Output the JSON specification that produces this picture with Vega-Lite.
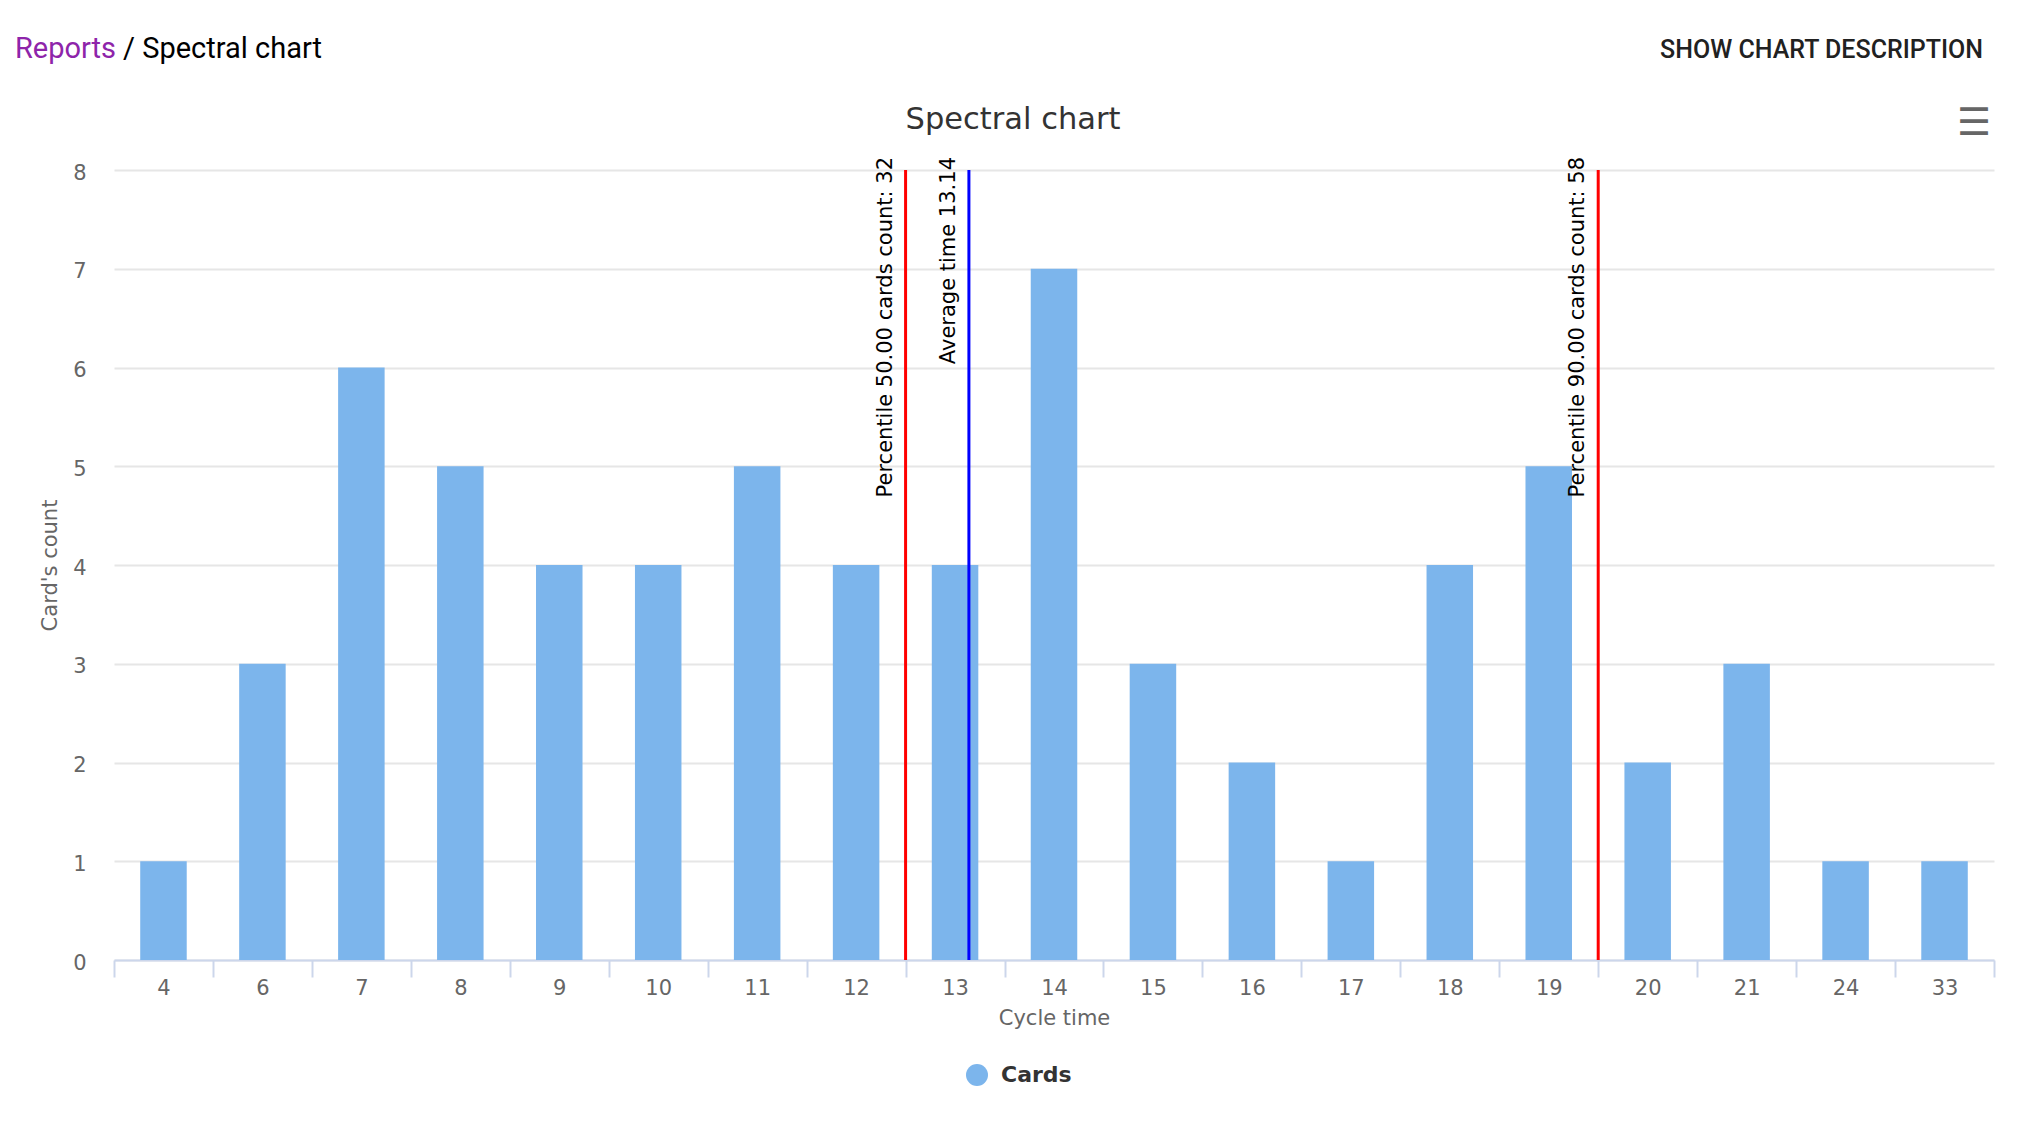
{
  "$schema": "https://vega.github.io/schema/vega-lite/v6.json",
  "width": 1880,
  "height": 790,
  "autosize": {"type": "none"},
  "padding": {"left": 114, "top": 170, "right": 34, "bottom": 170},
  "background": "white",
  "title": {"text": "Spectral chart", "font": "DejaVu Sans", "fontSize": 30.5, "fontWeight": "normal", "color": "#333333", "anchor": "middle", "frame": "bounds", "offset": 33, "dy": 133, "dx": 8},
  "config": {"view": {"stroke": null}, "font": "DejaVu Sans"},
  "layer": [
    {
      "data": {"values": [
        {"cycle": 4, "count": 1, "series": "Cards"},
        {"cycle": 6, "count": 3, "series": "Cards"},
        {"cycle": 7, "count": 6, "series": "Cards"},
        {"cycle": 8, "count": 5, "series": "Cards"},
        {"cycle": 9, "count": 4, "series": "Cards"},
        {"cycle": 10, "count": 4, "series": "Cards"},
        {"cycle": 11, "count": 5, "series": "Cards"},
        {"cycle": 12, "count": 4, "series": "Cards"},
        {"cycle": 13, "count": 4, "series": "Cards"},
        {"cycle": 14, "count": 7, "series": "Cards"},
        {"cycle": 15, "count": 3, "series": "Cards"},
        {"cycle": 16, "count": 2, "series": "Cards"},
        {"cycle": 17, "count": 1, "series": "Cards"},
        {"cycle": 18, "count": 4, "series": "Cards"},
        {"cycle": 19, "count": 5, "series": "Cards"},
        {"cycle": 20, "count": 2, "series": "Cards"},
        {"cycle": 21, "count": 3, "series": "Cards"},
        {"cycle": 24, "count": 1, "series": "Cards"},
        {"cycle": 33, "count": 1, "series": "Cards"}
      ]},
      "mark": {"type": "bar", "width": {"band": 0.47}},
      "encoding": {
        "x": {
          "field": "cycle", "type": "ordinal",
          "scale": {"paddingInner": 0, "paddingOuter": 0},
          "axis": {
            "title": "Cycle time", "labelAngle": 0, "tickBand": "extent",
            "domainColor": "#ccd6eb", "domainWidth": 2, "tickColor": "#ccd6eb", "tickWidth": 2, "tickSize": 17,
            "labelFont": "DejaVu Sans", "labelFontSize": 21, "labelColor": "#666666", "labelPadding": 0,
            "titleFont": "DejaVu Sans", "titleFontSize": 21, "titleFontWeight": "normal", "titleColor": "#666666", "titlePadding": 9
          }
        },
        "y": {
          "field": "count", "type": "quantitative",
          "scale": {"domain": [0, 8], "nice": false},
          "axis": {
            "title": "Card's count", "values": [0, 1, 2, 3, 4, 5, 6, 7, 8], "format": "d",
            "grid": true, "gridColor": "#e6e6e6", "gridWidth": 2, "domain": false, "ticks": false,
            "labelFont": "DejaVu Sans", "labelFontSize": 21, "labelColor": "#666666", "labelPadding": 28, "labelOffset": 3,
            "titleFont": "DejaVu Sans", "titleFontSize": 21, "titleFontWeight": "normal", "titleColor": "#666666", "titlePadding": 12
          }
        },
        "color": {
          "field": "series", "type": "nominal",
          "scale": {"range": ["#7cb5ec"]},
          "legend": {
            "orient": "none", "legendX": 852, "legendY": 894, "title": null,
            "symbolType": "circle", "symbolSize": 484, "symbolStrokeWidth": 0, "symbolOpacity": 1,
            "labelFont": "DejaVu Sans", "labelFontSize": 22, "labelFontWeight": "bold", "labelColor": "#333333", "labelOffset": 13
          }
        }
      }
    },
    {
      "data": {"values": [
        {"cycle": 13, "label": "Percentile 50.00 cards count: 32"},
        {"cycle": 20, "label": "Percentile 90.00 cards count: 58"}
      ]},
      "layer": [
        {
          "mark": {"type": "rule", "color": "#ff0000", "strokeWidth": 3},
          "encoding": {"x": {"field": "cycle", "type": "ordinal", "bandPosition": 0}}
        },
        {
          "mark": {"type": "text", "angle": 270, "align": "right", "baseline": "alphabetic", "dx": 13, "dy": -14, "font": "DejaVu Sans", "fontSize": 21, "color": "#000000"},
          "encoding": {
            "x": {"field": "cycle", "type": "ordinal", "bandPosition": 0},
            "y": {"datum": 8},
            "text": {"field": "label"}
          }
        }
      ]
    },
    {
      "data": {"values": [
        {"cycle": 13, "label": "Average time 13.14"}
      ]},
      "layer": [
        {
          "mark": {"type": "rule", "color": "#0000ff", "strokeWidth": 3},
          "encoding": {"x": {"field": "cycle", "type": "ordinal", "bandPosition": 0.64}}
        },
        {
          "mark": {"type": "text", "angle": 270, "align": "right", "baseline": "alphabetic", "dx": 13, "dy": -14, "font": "DejaVu Sans", "fontSize": 21, "color": "#000000"},
          "encoding": {
            "x": {"field": "cycle", "type": "ordinal", "bandPosition": 0.64},
            "y": {"datum": 8},
            "text": {"field": "label"}
          }
        }
      ]
    },
    {
      "data": {"values": [{"label": "Reports"}]},
      "mark": {"type": "text", "align": "left", "baseline": "middle", "dx": -99, "font": "Roboto", "fontSize": 29, "color": "#8e24aa"},
      "encoding": {
        "x": {"datum": 4, "type": "ordinal", "bandPosition": 0},
        "y": {"datum": 9.225},
        "text": {"field": "label"}
      }
    },
    {
      "data": {"values": [{"label": "/ Spectral chart"}]},
      "mark": {"type": "text", "align": "left", "baseline": "middle", "dx": 9, "font": "Roboto", "fontSize": 29, "color": "#000000"},
      "encoding": {
        "x": {"datum": 4, "type": "ordinal", "bandPosition": 0},
        "y": {"datum": 9.225},
        "text": {"field": "label"}
      }
    },
    {
      "data": {"values": [{"label": "SHOW CHART DESCRIPTION"}]},
      "mark": {"type": "text", "align": "right", "baseline": "middle", "dx": -11, "font": "Roboto", "fontSize": 25, "fontWeight": 500, "color": "#212121"},
      "encoding": {
        "x": {"datum": 33, "type": "ordinal", "bandPosition": 1},
        "y": {"datum": 9.215},
        "text": {"field": "label"}
      }
    },
    {
      "data": {"values": [{"label": "☰"}]},
      "mark": {"type": "text", "align": "center", "baseline": "middle", "dx": -20, "font": "DejaVu Sans", "fontSize": 38, "fontWeight": "bold", "color": "#666666"},
      "encoding": {
        "x": {"datum": 33, "type": "ordinal", "bandPosition": 1},
        "y": {"datum": 8.466},
        "text": {"field": "label"}
      }
    }
  ]
}
